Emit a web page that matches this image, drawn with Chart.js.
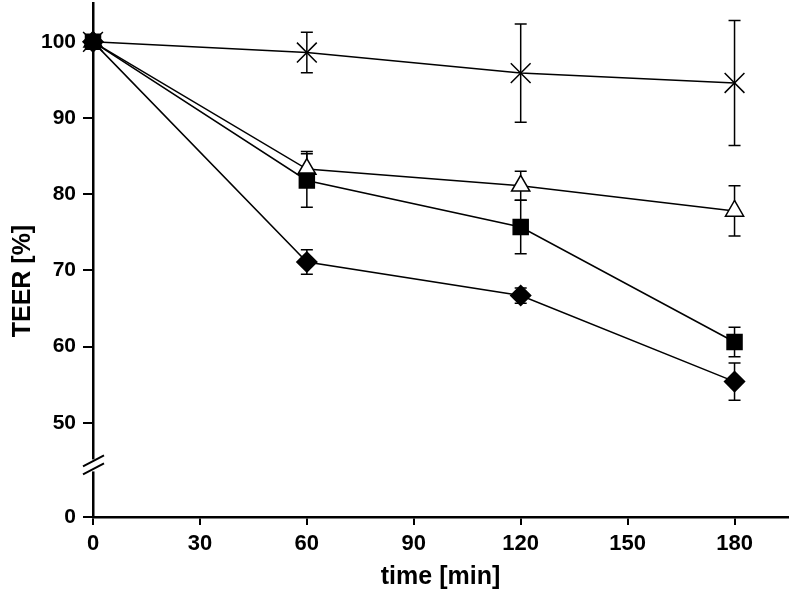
<!DOCTYPE html>
<html>
<head>
<meta charset="utf-8">
<script src="https://cdn.jsdelivr.net/npm/chart.js@4"></script>
<style>
  body { margin: 0; background: #fff; }
  #wrap { width: 792px; height: 594px; }
</style>
</head>
<body>
<div id="wrap"><canvas id="teerChart" width="792" height="594"></canvas></div>
<script>
// time points (min)
const times = [0, 60, 120, 180];
const xTicks = [0, 30, 60, 90, 120, 150, 180];
const yTicks = [0, 50, 60, 70, 80, 90, 100];

// TEER [%] per series, with error bars
const crossVals = [100, 98.6, 95.9, 94.6];
const crossErr = [0, 2.65, 6.45, 8.2];
const triVals = [100, 83.3, 81.1, 77.8];
const triErr = [0, 2.3, 1.9, 3.3];
const squareVals = [100, 81.8, 75.7, 60.6];
const squareErr = [0, 3.5, 3.5, 1.95];
const diamondVals = [100, 71.1, 66.7, 55.4];
const diamondErr = [0, 1.6, 1.0, 2.45];

const yTitle = 'TEER [%]';
const xTitle = 'time [min]';

// axis break: everything under 50 is squeezed
const breakAt = 50;
const squeeze = 0.2474;
function toAxis(v) {
    return v >= breakAt ? v : breakAt - (breakAt - v) * squeeze;
}
function fromAxis(a) {
    return a >= breakAt ? a : breakAt - (breakAt - a) / squeeze;
}

function pts(vals) {
    return vals.map((v, i) => ({ x: times[i], y: toAxis(v) }));
}

const FONT = "'Liberation Sans', Arial, sans-serif";

// error bars (drawn under the markers)
const errorBars = {
    id: 'errorBars',
    beforeDatasetsDraw(chart) {
        const ctx = chart.ctx;
        const xs = chart.scales.x, ys = chart.scales.y;
        ctx.save();
        ctx.strokeStyle = '#000';
        ctx.lineWidth = 1.5;
        chart.data.datasets.forEach(ds => {
            ds.data.forEach((p, i) => {
                const e = ds.errors[i];
                if (!e) return;
                const x = xs.getPixelForValue(p.x);
                const yTop = ys.getPixelForValue(toAxis(fromAxis(p.y) + e));
                const yBot = ys.getPixelForValue(toAxis(fromAxis(p.y) - e));
                ctx.beginPath();
                ctx.moveTo(x, yTop); ctx.lineTo(x, yBot);
                ctx.moveTo(x - 6, yTop); ctx.lineTo(x + 6, yTop);
                ctx.moveTo(x - 6, yBot); ctx.lineTo(x + 6, yBot);
                ctx.stroke();
            });
        });
        ctx.restore();
    }
};

// the // mark on the y axis + y title (sits a bit below centre)
const axisBreak = {
    id: 'axisBreak',
    afterDraw(chart) {
        const ctx = chart.ctx;
        const ys = chart.scales.y;
        const x = chart.chartArea.left;
        const yc = ys.getPixelForValue(44.4);
        ctx.save();
        ctx.fillStyle = '#fff';
        ctx.fillRect(x - 3, yc - 6, 6, 12);
        ctx.strokeStyle = '#000';
        ctx.lineWidth = 2;
        ctx.beginPath();
        ctx.moveTo(x - 10, yc + 1); ctx.lineTo(x + 11, yc - 10);
        ctx.moveTo(x - 10, yc + 9); ctx.lineTo(x + 11, yc - 2);
        ctx.stroke();

        ctx.translate(23, ys.getPixelForValue(68.6));
        ctx.rotate(-Math.PI / 2);
        ctx.fillStyle = '#000';
        ctx.font = 'bold 25px ' + FONT;
        ctx.textAlign = 'center';
        ctx.textBaseline = 'middle';
        ctx.fillText(yTitle, 0, 0);
        ctx.restore();
    }
};

function series(vals, errs, style, radius, fill) {
    return {
        data: pts(vals),
        errors: errs,
        borderColor: '#000',
        borderWidth: 1.5,
        pointStyle: style,
        pointRadius: radius,
        pointHoverRadius: radius,
        pointBackgroundColor: fill,
        pointBorderColor: '#000',
        pointBorderWidth: 1.5,
        tension: 0,
        clip: false
    };
}

new Chart(document.getElementById('teerChart'), {
    type: 'line',
    data: {
        // first dataset is painted last (on top)
        datasets: [
            series(crossVals, crossErr, 'crossRot', 14, '#000'),
            series(diamondVals, diamondErr, 'rectRot', 10, '#000'),
            series(squareVals, squareErr, 'rect', 10.6, '#000'),
            series(triVals, triErr, 'triangle', 10.5, '#fff')
        ]
    },
    options: {
        responsive: false,
        animation: false,
        devicePixelRatio: 1,
        layout: { autoPadding: false, padding: { top: 3, right: 4, left: 0, bottom: 0 } },
        plugins: { legend: { display: false }, tooltip: { enabled: false } },
        scales: {
            x: {
                type: 'linear',
                min: 0,
                max: 195,
                afterBuildTicks: s => { s.ticks = xTicks.map(v => ({ value: v })); },
                afterFit: s => { s.height = 77; s.paddingLeft = 0; s.paddingRight = 0; },
                grid: { drawOnChartArea: false, drawTicks: true, tickLength: 8, color: '#000', lineWidth: 2 },
                border: { display: true, color: '#000', width: 2.5 },
                ticks: { color: '#000', padding: 6, font: { family: FONT, size: 22, weight: 'bold' } },
                title: {
                    display: true, text: xTitle, color: '#000',
                    font: { family: FONT, size: 25, weight: 'bold' },
                    padding: { top: 0, bottom: 2 }
                }
            },
            y: {
                type: 'linear',
                min: toAxis(0),
                max: 105.1,
                afterBuildTicks: s => { s.ticks = yTicks.map(v => ({ value: toAxis(v) })); },
                afterFit: s => { s.width = 93; s.paddingTop = 0; s.paddingBottom = 0; },
                grid: { drawOnChartArea: false, drawTicks: true, tickLength: 10, color: '#000', lineWidth: 2 },
                border: { display: true, color: '#000', width: 2.5 },
                ticks: {
                    color: '#000', padding: 7,
                    font: { family: FONT, size: 21, weight: 'bold' },
                    callback: v => String(Math.round(fromAxis(v)))
                },
                title: { display: false }
            }
        }
    },
    plugins: [errorBars, axisBreak]
});
</script>
</body>
</html>
